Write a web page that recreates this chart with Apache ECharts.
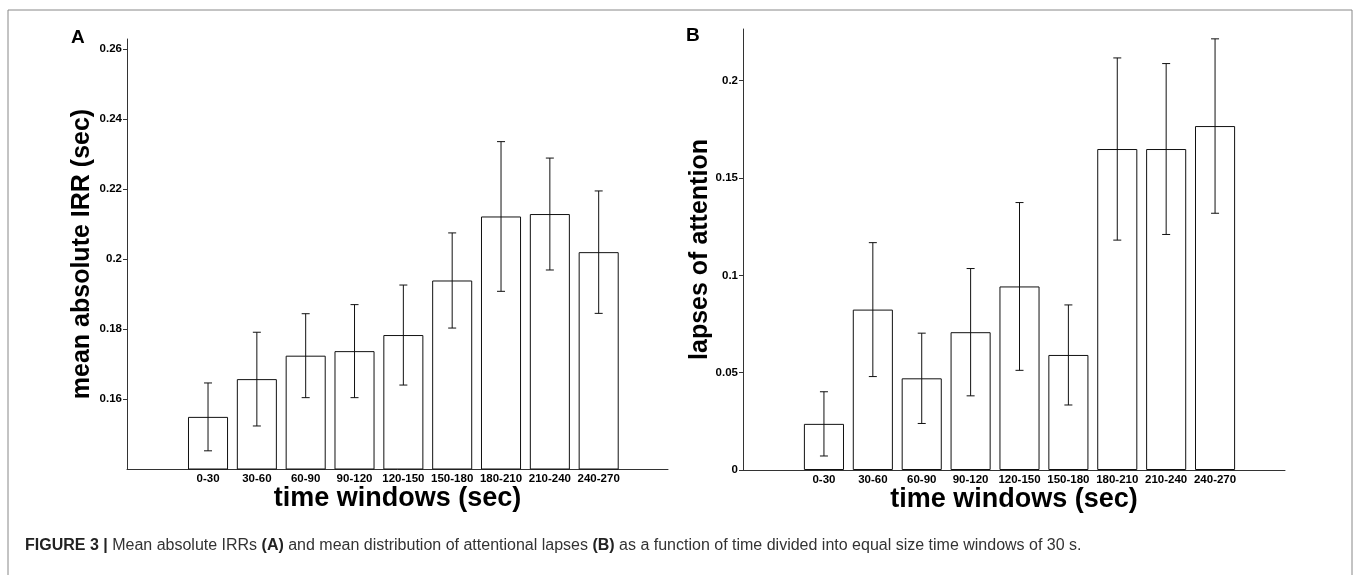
<!DOCTYPE html>
<html>
<head>
<meta charset="utf-8">
<script src="https://cdn.jsdelivr.net/npm/echarts@6/dist/echarts.min.js"></script>
<style>
html, body { margin: 0; padding: 0; background: #fff; }
#chart { width: 1358px; height: 575px; }
</style>
</head>
<body>
<div id="chart"></div>
<script>
// time windows (sec)
const categories = ['0-30', '30-60', '60-90', '90-120', '120-150', '150-180', '180-210', '210-240', '240-270'];
// panel A: mean absolute IRR (sec) and error half-width
const irrMean = [0.1549, 0.1657, 0.1724, 0.1737, 0.1783, 0.1939, 0.2122, 0.2129, 0.2020];
const irrErr = [0.0097, 0.0134, 0.0120, 0.0133, 0.0143, 0.0136, 0.0214, 0.0160, 0.0175];
// panel B: lapses of attention and error half-width
const lapseMean = [0.0237, 0.0824, 0.0471, 0.0708, 0.0943, 0.0591, 0.1649, 0.1649, 0.1767];
const lapseErr = [0.0165, 0.0344, 0.0232, 0.0327, 0.0431, 0.0257, 0.0468, 0.0439, 0.0448];
// y tick ranges
const irrTicks = { min: 0.14, max: 0.26, interval: 0.02 };
const lapseTicks = { min: 0, max: 0.2, interval: 0.05 };

const font = 'Liberation Sans, Arial, sans-serif';
const chart = echarts.init(document.getElementById('chart'));

// axis frame: only the lines and the axis names
const frameX = (name) => ({
    type: 'value', min: 0, max: 1,
    name: name, nameLocation: 'middle', nameGap: 16,
    nameTextStyle: { fontFamily: font, fontSize: 27, fontWeight: 'bold', color: '#000' },
    axisLine: { show: true, onZero: false, lineStyle: { color: '#333', width: 1 } },
    axisTick: { show: false }, axisLabel: { show: false }, splitLine: { show: false }
});
const frameY = (name, gap) => ({
    type: 'value', min: 0, max: 1,
    name: name, nameLocation: 'middle', nameGap: gap,
    nameTextStyle: { fontFamily: font, fontSize: 25, fontWeight: 'bold', color: '#000' },
    axisLine: { show: true, onZero: false, lineStyle: { color: '#333', width: 1 } },
    axisTick: { show: false }, axisLabel: { show: false }, splitLine: { show: false }
});
// category axis under the bars
const barX = (gridIndex) => ({
    type: 'category', gridIndex: gridIndex, data: categories,
    axisLine: { show: false }, axisTick: { show: false },
    axisLabel: { fontFamily: font, fontSize: 11.5, fontWeight: 'bold', color: '#000', margin: 4, interval: 0 }
});
const barY = (gridIndex, ticks, offset, hideMin) => ({
    type: 'value', gridIndex: gridIndex, min: ticks.min, max: ticks.max, interval: ticks.interval,
    offset: offset,
    axisLine: { show: false },
    axisTick: { show: true, inside: false, length: 4, lineStyle: { color: '#333' } },
    axisLabel: { fontFamily: font, fontSize: 11.5, fontWeight: 'bold', color: '#000', margin: 5, showMinLabel: !hideMin },
    splitLine: { show: false }
});

const barSeries = (axisIndex, values) => ({
    type: 'bar', xAxisIndex: axisIndex, yAxisIndex: axisIndex,
    data: values, barWidth: '82%', clip: true, silent: true,
    itemStyle: { color: '#fff', borderColor: '#111', borderWidth: 1 }
});

const errorSeries = (axisIndex, mean, err) => ({
    type: 'custom', xAxisIndex: axisIndex, yAxisIndex: axisIndex, clip: false, silent: true, z: 5,
    encode: { x: 0, y: [1, 2] },
    data: mean.map((m, i) => [i, m - err[i], m + err[i]]),
    renderItem: (params, api) => {
        const lo = api.coord([api.value(0), api.value(1)]);
        const hi = api.coord([api.value(0), api.value(2)]);
        const w = 4;
        const style = { stroke: '#111', lineWidth: 1 };
        return {
            type: 'group',
            children: [
                { type: 'line', shape: { x1: hi[0], y1: hi[1], x2: lo[0], y2: lo[1] }, style: style },
                { type: 'line', shape: { x1: hi[0] - w, y1: hi[1], x2: hi[0] + w, y2: hi[1] }, style: style },
                { type: 'line', shape: { x1: lo[0] - w, y1: lo[1], x2: lo[0] + w, y2: lo[1] }, style: style }
            ]
        };
    }
});

chart.setOption({
    animation: false,
    backgroundColor: '#fff',
    grid: [
        { left: 127, top: 39, width: 541, height: 430 },
        { left: 183.6, top: 49.3, width: 439.5, height: 419.7 },
        { left: 743, top: 29, width: 542, height: 441 },
        { left: 799.5, top: 80.7, width: 440, height: 389.3 }
    ],
    xAxis: [
        Object.assign(frameX('time windows (sec)'), { gridIndex: 0 }),
        barX(1),
        Object.assign(frameX('time windows (sec)'), { gridIndex: 2 }),
        barX(3)
    ],
    yAxis: [
        Object.assign(frameY('mean absolute IRR (sec)', 32), { gridIndex: 0 }),
        barY(1, irrTicks, 183.6 - 127, true),
        Object.assign(frameY('lapses of attention', 30), { gridIndex: 2 }),
        barY(3, lapseTicks, 799.5 - 743, false)
    ],
    series: [
        barSeries(1, irrMean),
        errorSeries(1, irrMean, irrErr),
        barSeries(3, lapseMean),
        errorSeries(3, lapseMean, lapseErr)
    ],
    graphic: [
        {
            type: 'rect', silent: true,
            shape: { x: 8, y: 10, width: 1344, height: 620 },
            style: { fill: null, stroke: '#888', lineWidth: 1 }
        },
        {
            type: 'text', left: 71, top: 28,
            style: { text: 'A', font: 'bold 19px ' + font, fill: '#000' }
        },
        {
            type: 'text', left: 686, top: 26,
            style: { text: 'B', font: 'bold 19px ' + font, fill: '#000' }
        },
        {
            type: 'text', left: 25, top: 538,
            style: {
                text: '{b|FIGURE 3 |} Mean absolute IRRs {b|(A)} and mean distribution of attentional lapses {b|(B)} as a function of time divided into equal size time windows of 30 s.',
                font: '16px ' + font, fill: '#333',
                rich: { b: { fontWeight: 'bold', fontSize: 16, fontFamily: font, fill: '#222' } }
            }
        }
    ]
});
</script>
</body>
</html>
